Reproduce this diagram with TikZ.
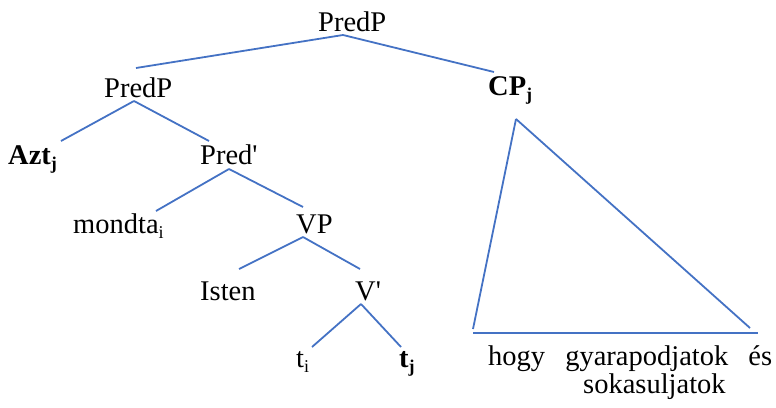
\documentclass[tikz,border=0pt]{standalone}
\usepackage{fontspec}
\setmainfont{Liberation Serif}
\definecolor{edgeblue}{HTML}{4472C4}
\newcommand{\sbs}[1]{{\fontsize{18}{18}\selectfont\raisebox{-5pt}{#1}}}
\begin{document}
\begin{tikzpicture}[x=1pt,y=-1pt,
  lbl/.style={anchor=base west,inner sep=0pt,font=\fontsize{28.5}{30}\selectfont},
  edge/.style={draw=edgeblue,line width=1.8pt}]
\useasboundingbox (0,0) rectangle (776,407);
% labels
\node[lbl] (root) at (318,31) {PredP};
\node[lbl] (predp) at (104,97) {PredP};
\node[lbl] (cp) at (488,95) {\textbf{CP}\sbs{\textbf{j}}};
\node[lbl] (azt) at (8,164) {\textbf{Azt}\sbs{\textbf{j}}};
\node[lbl] (predbar) at (200,164) {Pred\textquotesingle};
\node[lbl] (mondta) at (73,233) {mondta\sbs{i}};
\node[lbl] (vp) at (296,233) {VP};
\node[lbl] (isten) at (200,300) {Isten};
\node[lbl] (vbar) at (355,300) {V\textquotesingle};
\node[lbl] (ti) at (296,367) {t\sbs{i}};
\node[lbl] (tj) at (399,367) {\textbf{t}\sbs{\textbf{j}}};
\node[lbl] (hogy) at (488,365) {\hbox to 284pt{hogy\hfill gyarapodjatok\hfill és}};
\node[lbl] (soka) at (583,393) {sokasuljatok};
% edge end points
\coordinate (rootB) at (343,35);
\coordinate (predpT) at (136,68);
\coordinate (cpT) at (494,72);
\coordinate (predpB) at (134,101);
\coordinate (aztT) at (61,141);
\coordinate (predbarT) at (209,141);
\coordinate (predbarB) at (229,169);
\coordinate (mondtaT) at (156,211);
\coordinate (vpT) at (303,207);
\coordinate (vpB) at (303,237);
\coordinate (istenT) at (239,269);
\coordinate (vbarT) at (360,269);
\coordinate (vbarB) at (361,304);
\coordinate (tiT) at (312,347);
\coordinate (tjT) at (401,347);
\coordinate (triA) at (516,119);
\coordinate (triL) at (473,329);
\coordinate (triR) at (750,328);
\coordinate (baseL) at (473,333);
\coordinate (baseR) at (758,333);
% edges
\draw[edge] (rootB) -- (predpT);
\draw[edge] (rootB) -- (cpT);
\draw[edge] (predpB) -- (aztT);
\draw[edge] (predpB) -- (predbarT);
\draw[edge] (predbarB) -- (mondtaT);
\draw[edge] (predbarB) -- (vpT);
\draw[edge] (vpB) -- (istenT);
\draw[edge] (vpB) -- (vbarT);
\draw[edge] (vbarB) -- (tiT);
\draw[edge] (vbarB) -- (tjT);
\draw[edge] (triA) -- (triL);
\draw[edge] (triA) -- (triR);
\draw[edge] (baseL) -- (baseR);
\end{tikzpicture}
\end{document}
